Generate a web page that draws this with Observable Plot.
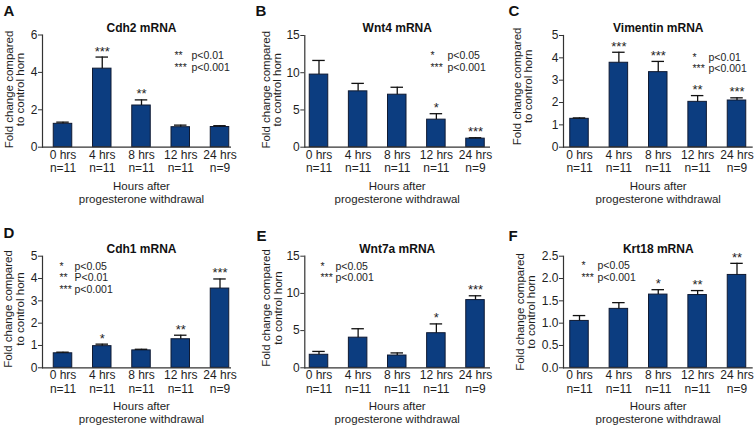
<!DOCTYPE html>
<html><head><meta charset="utf-8">
<script src="https://cdn.jsdelivr.net/npm/d3@7"></script>
<script src="https://cdn.jsdelivr.net/npm/@observablehq/plot@0.6"></script>
<style>
body{margin:0;background:#fff}
#wrap{position:relative;width:756px;height:428px;font-family:"Liberation Sans",Arial,sans-serif}
#wrap svg{position:absolute;overflow:visible}
</style></head><body><div id="wrap"></div>
<script>
// ---- data ----
const hours = ["0 hrs","4 hrs","8 hrs","12 hrs","24 hrs"];
const nLabels = ["n=11","n=11","n=11","n=11","n=9"];
const xTitle = "Hours after\nprogesterone withdrawal";
const yTitle = "Fold change compared\nto control horn";

const cdh2Mean = [1.25,4.2,2.23,1.07,1.08];
const cdh2Sem  = [0.09,0.62,0.3,0.11,0.07];
const cdh2Sig  = ["","***","**","",""];

const wnt4Mean = [9.75,7.5,7.05,3.7,1.15];
const wnt4Sem  = [1.9,1.07,1.0,0.8,0.12];
const wnt4Sig  = ["","","","*","***"];

const vimMean = [1.27,3.78,3.36,2.03,2.09];
const vimSem  = [0.04,0.47,0.48,0.28,0.12];
const vimSig  = ["","***","***","**","***"];

const cdh1Mean = [0.65,0.97,0.78,1.28,3.55];
const cdh1Sem  = [0.05,0.09,0.05,0.18,0.43];
const cdh1Sig  = ["","*","","**","***"];

const wnt7aMean = [1.75,4.05,1.65,4.65,9.1];
const wnt7aSem  = [0.45,1.2,0.35,1.25,0.58];
const wnt7aSig  = ["","","","*","***"];

const krt18Mean = [1.05,1.32,1.64,1.63,2.08];
const krt18Sem  = [0.12,0.14,0.11,0.1,0.26];
const krt18Sig  = ["","","*","**","**"];

const ticksA = [0,2,4,6];
const ticksB = [0,5,10,15];
const ticksC = [0,1,2,3,4,5];
const ticksD = [0,1,2,3,4,5];
const ticksE = [0,5,10,15];
const ticksF = [0,0.5,1,1.5,2,2.5];

const legStarsA = ["**","***"],  legTextA = ["p<0.01","p<0.001"];
const legStarsB = ["*","***"],   legTextB = ["p<0.05","p<0.001"];
const legStarsC = ["*","***"],   legTextC = ["p<0.01","p<0.001"];
const legStarsD = ["*","**","***"], legTextD = ["p<0.05","P<0.01","p<0.001"];
const legStarsE = ["*","***"],   legTextE = ["p<0.05","p<0.001"];
const legStarsF = ["*","***"],   legTextF = ["p<0.05","p<0.001"];

// ---- layout / style ----
const BAR = "#0c3d80", BAR_STROKE = "#0f1a33", AX = "#333", INK = "#1e1e1e";
const FONT = '"Liberation Sans", Arial, sans-serif';

const panels = [
  {letter:"A", title:"Cdh2 mRNA", mean:cdh2Mean, sem:cdh2Sem, sig:cdh2Sig, ticks:ticksA, fmt:d3.format("d"), legS:legStarsA, legT:legTextA,
   left:0, top:0, mL:42, mR:21, mT:34.5, mB:67.3, c0:62.5, c4:219.5, lx:3, ly:15, ycx:14.5, ydy:-1.6, sx:174, px:191, lb:70},
  {letter:"B", title:"Wnt4 mRNA", mean:wnt4Mean, sem:wnt4Sem, sig:wnt4Sig, ticks:ticksB, fmt:d3.format("d"), legS:legStarsB, legT:legTextB,
   left:252, top:0, mL:52.3, mR:14, mT:35, mB:67.3, c0:66.5, c4:223, lx:3, ly:15, ycx:19.5, ydy:-1.6, sx:178, px:195, lb:70},
  {letter:"C", title:"Vimentin mRNA", mean:vimMean, sem:vimSem, sig:vimSig, ticks:ticksC, fmt:d3.format("d"), legS:legStarsC, legT:legTextC,
   left:504, top:0, mL:59, mR:3.3, mT:35, mB:67.3, c0:75, c4:232.5, lx:4, ly:15, ycx:18.5, ydy:-5, sx:188, px:204, lb:71.7},
  {letter:"D", title:"Cdh1 mRNA", mean:cdh1Mean, sem:cdh1Sem, sig:cdh1Sig, ticks:ticksD, fmt:d3.format("d"), legS:legStarsD, legT:legTextD,
   left:0, top:214, mL:42, mR:21, mT:41.7, mB:60.7, c0:62.5, c4:219.5, lx:3, ly:23.3, ycx:14, ydy:-3, sx:59, px:74, lb:78.3},
  {letter:"E", title:"Wnt7a mRNA", mean:wnt7aMean, sem:wnt7aSem, sig:wnt7aSig, ticks:ticksE, fmt:d3.format("d"), legS:legStarsE, legT:legTextE,
   left:252, top:214, mL:52.3, mR:14, mT:41.7, mB:60.7, c0:66.5, c4:223, lx:4, ly:26, ycx:20, ydy:-4, sx:68, px:83, lb:66.7},
  {letter:"F", title:"Krt18 mRNA", mean:krt18Mean, sem:krt18Sem, sig:krt18Sig, ticks:ticksF, fmt:d3.format(".1f"), legS:legStarsF, legT:legTextF,
   left:504, top:214, mL:59, mR:3.3, mT:41.7, mB:60.7, c0:75, c4:232.5, lx:4, ly:26, ycx:21.5, ydy:0, sx:77, px:93, lb:66}
];

const W = 252, H = 214, BW = 18.5;
const wrap = document.getElementById("wrap");

for (const p of panels) {
  const step = (p.c4 - p.c0) / 4;
  const pi = 1 - BW / step;
  const ymax = p.ticks[p.ticks.length - 1];
  const data = hours.map((h, i) => ({h, label: h + "\n" + nLabels[i], mean: p.mean[i], top: p.mean[i] + p.sem[i], sig: p.sig[i]}));
  const svg = Plot.plot({
    width: W, height: H,
    marginLeft: p.mL, marginRight: p.mR, marginTop: p.mT, marginBottom: p.mB,
    style: {fontFamily: FONT, color: INK, background: "transparent", overflow: "visible"},
    x: {type: "band", domain: hours, range: [p.c0 - step / 2, p.c4 + step / 2], paddingInner: pi, paddingOuter: pi / 2, round: false, axis: null},
    y: {domain: [0, ymax], axis: null},
    marks: [
      Plot.barY(data, {x: "h", y: "mean", fill: BAR, stroke: BAR_STROKE, strokeWidth: 1}),
      Plot.ruleX(data, {x: "h", y1: "mean", y2: "top", stroke: "#111", strokeWidth: 1.3}),
      Plot.tickY(data, {x: "h", y: "top", stroke: "#111", strokeWidth: 1.3, insetLeft: 3, insetRight: 3}),
      Plot.axisY({ticks: p.ticks, tickFormat: p.fmt, tickSize: 4, tickPadding: 1, fontSize: 12, label: null, stroke: AX, fill: INK}),
      Plot.frame({anchor: "left", stroke: AX, strokeWidth: 1.2}),
      Plot.ruleY([0], {stroke: AX, strokeWidth: 1.2}),
      Plot.text(data, {x: "h", y: () => 0, text: "label", lineAnchor: "bottom", lineHeight: 1.13, dy: 25, fontSize: 12, fill: INK}),
      Plot.text(data, {x: "h", y: "top", text: "sig", lineAnchor: "bottom", dy: -1.5, fontSize: 13, fill: INK}),
      Plot.text([p.title], {x: () => hours[2], y: () => ymax, text: d => d, lineAnchor: "bottom", dy: -3.5, fontSize: 12, fontWeight: "bold", fill: "#111"}),
      Plot.text([xTitle], {x: () => hours[2], y: () => 0, text: d => d, lineAnchor: "bottom", lineHeight: 1.12, dy: 55.5, fontSize: 11.5, fill: INK}),
      Plot.text([yTitle], {frameAnchor: "left", text: d => d, rotate: -90, textAnchor: "middle", lineAnchor: "middle", lineHeight: 1, dx: p.ycx - p.mL, dy: p.ydy, fontSize: 11.5, fill: INK}),
      Plot.text([p.letter], {frameAnchor: "top-left", text: d => d, textAnchor: "start", lineAnchor: "bottom", dx: p.lx - p.mL, dy: p.ly - p.mT, fontSize: 15, fontWeight: "bold", fill: "#111"}),
      Plot.text([p.legS.join("\n")], {frameAnchor: "top-left", text: d => d, textAnchor: "start", lineAnchor: "bottom", lineHeight: 1.11, dx: p.sx - p.mL, dy: p.lb - p.mT, fontSize: 10.5, fill: INK}),
      Plot.text([p.legT.join("\n")], {frameAnchor: "top-left", text: d => d, textAnchor: "start", lineAnchor: "bottom", lineHeight: 1.11, dx: p.px - p.mL, dy: p.lb - p.mT, fontSize: 10.5, fill: INK})
    ]
  });
  svg.style.left = p.left + "px";
  svg.style.top = p.top + "px";
  wrap.appendChild(svg);
}
</script>
</body></html>
